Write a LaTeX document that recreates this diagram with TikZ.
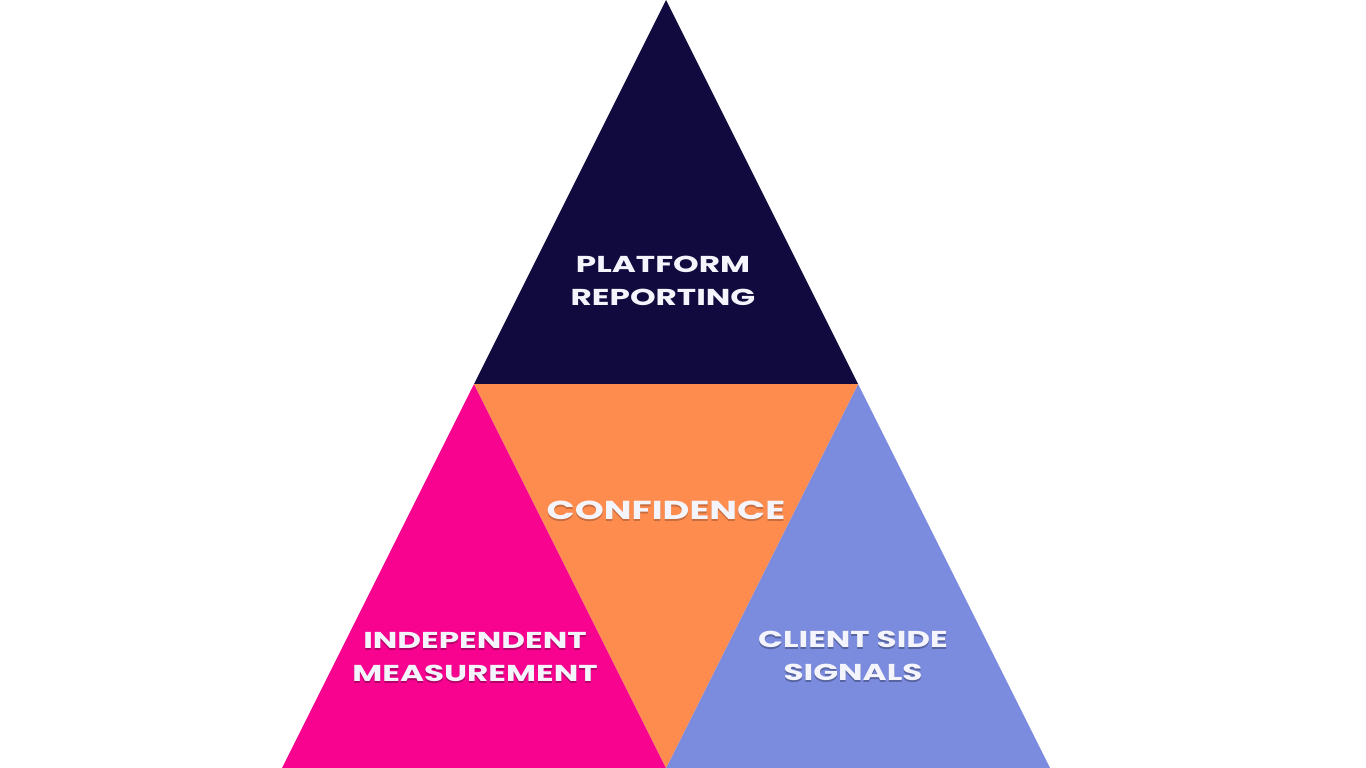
\documentclass[tikz,border=0pt]{standalone}
\usepackage{fontspec}
\newfontfamily\widefont[FakeStretch=1.42]{Poppins}
\definecolor{navy}{HTML}{110A3E}
\definecolor{hotpink}{HTML}{F70390}
\definecolor{tangerine}{HTML}{FF8C4F}
\definecolor{lavender}{HTML}{7B8BDD}
\definecolor{txt}{HTML}{F4F5FC}
\newcommand\shd[2]{\leavevmode\rlap{\raisebox{-2pt}{\textcolor{#1}{#2}}}#2}
\tikzset{
  lbl/.style={text=txt, font=\widefont\bfseries\fontsize{23}{33}\selectfont, align=center, inner sep=0pt},
}
\begin{document}
\begin{tikzpicture}[x=1pt,y=-1pt]
\useasboundingbox (0,0) rectangle (1366,768);
\fill[white] (0,0) rectangle (1366,768);
\coordinate (apex) at (666,0);
\coordinate (bl) at (282,768);
\coordinate (br) at (1050,768);
\coordinate (ml) at (474,384);
\coordinate (mr) at (858,384);
\coordinate (mb) at (666,768);
\fill[navy] (apex) -- (ml) -- (mr) -- cycle;
\fill[hotpink] (ml) -- (bl) -- (mb) -- cycle;
\fill[lavender] (mr) -- (mb) -- (br) -- cycle;
\fill[tangerine] (ml) -- (mr) -- (mb) -- cycle;
\node[lbl] (top) at (663,281) {PLATFORM\\REPORTING};
\node[lbl] (conf) at (666,511) {\fontsize{26}{30}\selectfont\shd{tangerine!78!black}{CONFIDENCE}};
\node[lbl] (left) at (475,658) {\shd{hotpink!72!black}{INDEPENDENT}\\\shd{hotpink!72!black}{MEASUREMENT}};
\node[lbl] (right) at (853,657) {\shd{lavender!72!black}{CLIENT SIDE}\\\shd{lavender!72!black}{SIGNALS}};
\end{tikzpicture}
\end{document}
